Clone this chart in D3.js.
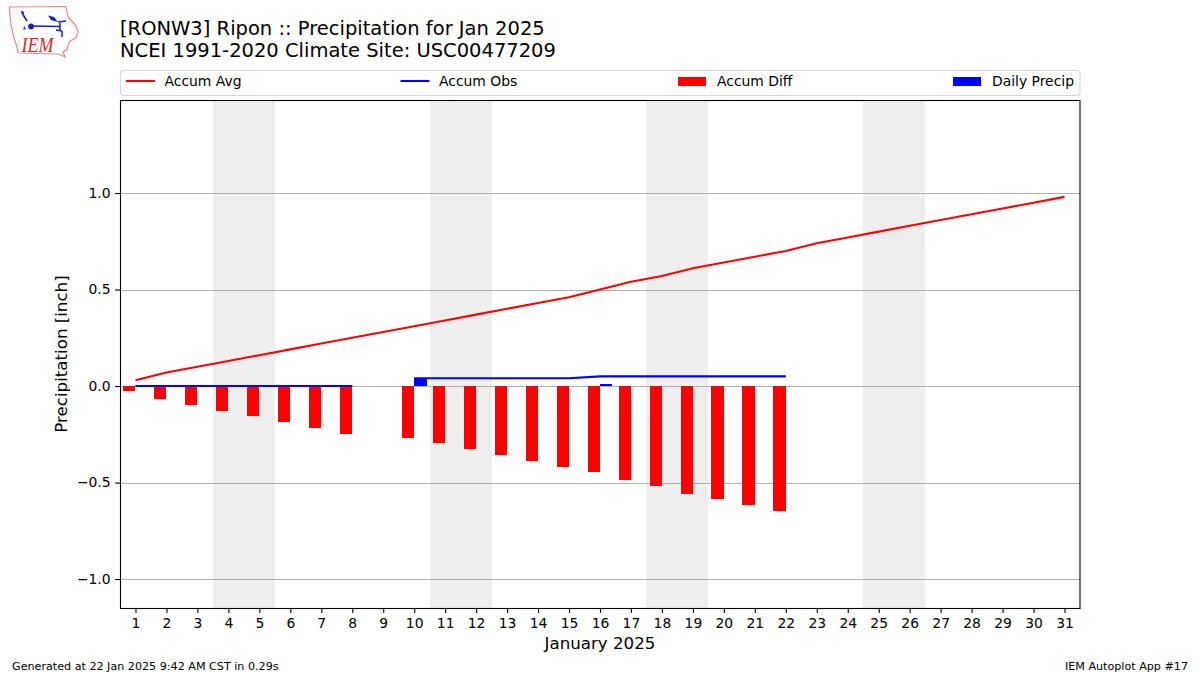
<!DOCTYPE html>
<html><head><meta charset="utf-8">
<script src="https://d3js.org/d3.v7.min.js"></script>
<style>html,body{margin:0;padding:0;background:#fff}svg{display:block}text{font-family:"DejaVu Sans",sans-serif;fill:#000}</style>
</head><body><svg id="c" width="1200" height="675"></svg>
<script>
const titleLines = ["[RONW3] Ripon :: Precipitation for Jan 2025","NCEI 1991-2020 Climate Site: USC00477209"];
const days = d3.range(1,32);
const accumAvg = [0.03,0.07,0.10,0.13,0.16,0.19,0.22,0.25,0.28,0.31,0.34,0.37,0.40,0.43,0.46,0.50,0.54,0.57,0.61,0.64,0.67,0.70,0.74,0.77,0.80,0.83,0.86,0.89,0.92,0.95,0.98];
const accumObs = [0,0,0,0,0,0,0,0,null,0.04,0.04,0.04,0.04,0.04,0.04,0.05,0.05,0.05,0.05,0.05,0.05,0.05];
const accumDiff = [-0.03,-0.07,-0.10,-0.13,-0.16,-0.19,-0.22,-0.25,null,-0.27,-0.30,-0.33,-0.36,-0.39,-0.42,-0.45,-0.49,-0.52,-0.56,-0.59,-0.62,-0.65];
const dailyPrecip = [0,0,0,0,0,0,0,0,null,0.04,0,0,0,0,0,0.01,0,0,0,0,0,0];
const weekends = [[3.5,5.5],[10.5,12.5],[17.5,19.5],[24.5,26.5]];
const yTicks = [-1,-0.5,0,0.5,1];
const legendItems = [["Accum Avg","line","#f00",126],["Accum Obs","line","#00f",400.5],["Accum Diff","bar","#f00",678],["Daily Precip","bar","#00f",953]];
const W=0.4;
const L=120,R=1080,T=100,B=608;
const x=d3.scaleLinear().domain([0.5,31.5]).range([L,R]);
const y=d3.scaleLinear().domain([-1.15,1.482]).range([B,T]);
const svg=d3.select("#c");
const rx=v=>Math.round(x(v)), ry=v=>Math.round(y(v));

// logo
const logo=svg.append("g");
logo.append("path").attr("d","M9.5,7 L66,6.5 L67,12 L68,17 L71,20 L76,26 L78,32 L76,38 L70,41 L68,46 L67,50 L63,52 L65,57 L61,55 L58,54 L18,53 L17,47 L14,38 L11,25 L9.5,12 Z").attr("fill","none").attr("stroke","#e58a8a").attr("stroke-width",1.2);
logo.append("path").attr("d","M31,26 L60,26.5 M27,21 L22,13 M21,11.5 L24,13 M60,23 L60,31 M56,30 L62,31 M62,31 L62,37 M58,22 L66,21").attr("fill","none").attr("stroke","#1a1ad0").attr("stroke-width",1.5);
logo.append("path").attr("d","M48,15.5 L54,17 L58,22 L51,20 Z").attr("fill","#1a1ad0");
logo.append("circle").attr("cx",31).attr("cy",26.5).attr("r",2.9).attr("fill","#1a1ad0");
logo.append("path").attr("d","M23,29 h3 M24.5,26.5 v2").attr("fill","none").attr("stroke","#3a3ad0").attr("stroke-width",1.2);
logo.append("text").attr("x",21.5).attr("y",52).attr("font-size",22).attr("textLength",32).attr("lengthAdjust","spacingAndGlyphs").style("font-family","'Liberation Serif',serif").style("font-style","italic").style("fill","#d02a2a").text("IEM");

// titles
titleLines.forEach((t,i)=>svg.append("text").attr("x",120).attr("y",35+i*22).attr("font-size",19.5).text(t));

// legend
svg.append("rect").attr("x",120.5).attr("y",70.5).attr("width",959.5).attr("height",25).attr("rx",3).attr("fill","#fff").attr("stroke","#d8d8d8").attr("stroke-width",1.1);
legendItems.forEach(([t,k,c,px])=>{
  if(k==="line") svg.append("line").attr("x1",px).attr("x2",px+29).attr("y1",81).attr("y2",81).attr("stroke",c).attr("stroke-width",2.08);
  else svg.append("rect").attr("x",px).attr("y",77).attr("width",28).attr("height",9).attr("fill",c);
  svg.append("text").attr("x",px+(k==="line"?38.5:39)).attr("y",86).attr("font-size",13.9).text(t);
});

// weekend shading
svg.selectAll("rect.wk").data(weekends).join("rect").attr("class","wk")
  .attr("x",d=>rx(d[0])).attr("width",d=>rx(d[1])-rx(d[0])).attr("y",T).attr("height",B-T).attr("fill","#eeeeee");

// grid
svg.selectAll("line.grid").data(yTicks).join("line").attr("class","grid")
  .attr("x1",L).attr("x2",R).attr("y1",d=>ry(d)+0.5).attr("y2",d=>ry(d)+0.5)
  .attr("stroke","#b0b0b0").attr("stroke-width",1.1);

// bars
const zero=ry(0);
svg.selectAll("rect.diff").data(accumDiff.map((v,i)=>[days[i],v]).filter(d=>d[1]!==null)).join("rect").attr("class","diff")
  .attr("x",d=>rx(d[0]-W)).attr("width",d=>rx(d[0])-rx(d[0]-W)).attr("y",zero).attr("height",d=>Math.floor(y(d[1]))-zero).attr("fill","#f00");
svg.selectAll("rect.daily").data(dailyPrecip.map((v,i)=>[days[i],v]).filter(d=>d[1])).join("rect").attr("class","daily")
  .attr("x",d=>rx(d[0])).attr("width",d=>rx(d[0]+W)-rx(d[0])).attr("y",d=>ry(d[1])).attr("height",d=>zero-ry(d[1])).attr("fill","#00f");

// lines
const line=d3.line().defined(d=>d[1]!==null).x(d=>x(d[0])).y(d=>y(d[1]));
svg.append("path").attr("d",line(accumAvg.map((v,i)=>[days[i],v]))).attr("fill","none").attr("stroke","#f00").attr("stroke-width",2.08);
svg.append("path").attr("d",line(accumObs.map((v,i)=>[days[i],v]))).attr("fill","none").attr("stroke","#00f").attr("stroke-width",2.08);

// axes
const xa=svg.append("g").attr("transform",`translate(0,${B})`).call(d3.axisBottom(x).tickValues(days).tickFormat(d3.format("d")).tickSizeOuter(0).tickSize(4.9).tickPadding(5.5));
const ya=svg.append("g").attr("transform",`translate(${L},0)`).call(d3.axisLeft(y).tickValues(yTicks).tickFormat(d=>(d<0?"\u2212":"")+Math.abs(d).toFixed(1)).tickSizeOuter(0).tickSize(4.9).tickPadding(4.5));
[xa,ya].forEach(a=>{a.select(".domain").remove();a.selectAll("text").attr("font-size",13.9).style("font-family","'DejaVu Sans'");a.selectAll("line").attr("stroke","#000").attr("stroke-width",1.1);});
svg.append("rect").attr("x",L+.5).attr("y",T+.5).attr("width",R-L-.5).attr("height",B-T).attr("fill","none").attr("stroke","#000").attr("stroke-width",1.1);

svg.append("text").attr("x",600).attr("y",649).attr("text-anchor","middle").attr("font-size",16.67).text("January 2025");
svg.append("text").attr("transform","translate(67,354) rotate(-90)").attr("text-anchor","middle").attr("font-size",16.67).text("Precipitation [inch]");
svg.append("text").attr("x",12).attr("y",670).attr("font-size",11.15).text("Generated at 22 Jan 2025 9:42 AM CST in 0.29s");
svg.append("text").attr("x",1188).attr("y",670).attr("text-anchor","end").attr("font-size",11.15).text("IEM Autoplot App #17");
</script></body></html>
